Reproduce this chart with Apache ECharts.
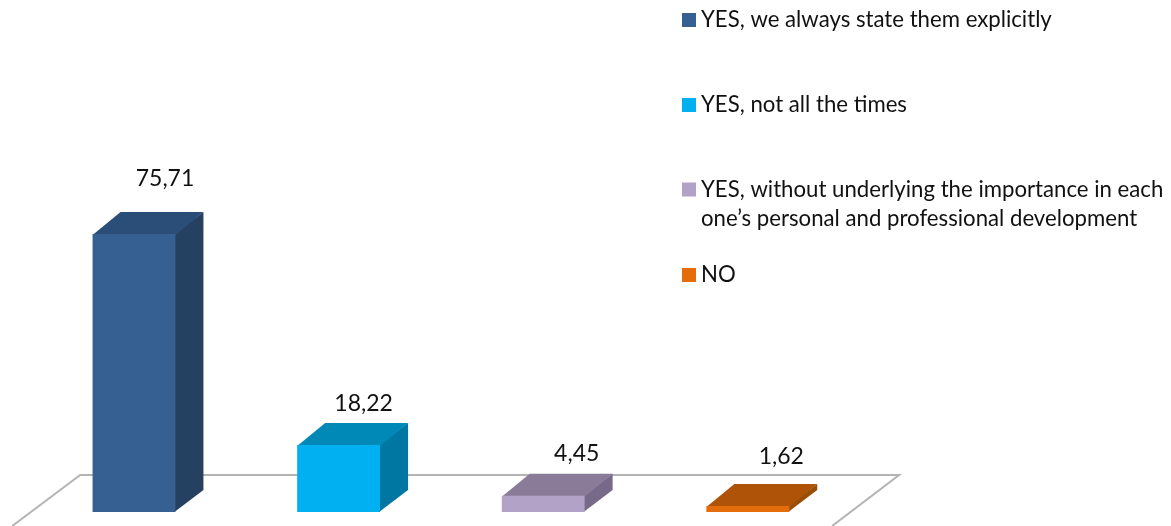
<!DOCTYPE html>
<html>
<head>
<meta charset="utf-8">
<script src="https://cdn.jsdelivr.net/npm/echarts@6/dist/echarts.min.js"></script>
<style>html,body{margin:0;padding:0;background:#fff}#c{width:1171px;height:526px}</style>
</head>
<body>
<div id="c"></div>
<script>
const categories = [
  'YES, we always state them explicitly',
  'YES, not all the times',
  'YES, without underlying the importance in each\none\u2019s personal and professional development',
  'NO'
];
const values = [75.71, 18.22, 4.45, 1.62];
const valueLabels = ['75,71', '18,22', '4,45', '1,62'];

const frontColors = ['#376092', '#00b0f0', '#b3a2c7', '#e46c0a'];
const topColors = ['#2b4e78', '#0088b6', '#8a7b98', '#ae5308'];
const sideColors = ['#254061', '#0076a3', '#776a88', '#975006'];
const labelOffsets = [[31, -55], [25, -42], [33.5, -42], [33.5, -49]];
const legendTops = [8, 93, 175, 263];
const DX = 28, DY = 22;
const FONT = 'Lato, Carlito, Calibri, sans-serif';

function barItem(i) {
  return function (params, api) {
    const p0 = api.coord([i, 0]);
    const p1 = api.coord([i, api.value(1)]);
    const w = api.size([1, 0])[0] * 0.405;
    const l = p0[0] - w / 2, r = p0[0] + w / 2, b = p0[1], t = p1[1];
    return {
      type: 'group',
      children: [
        { type: 'polygon', shape: { points: [[r - 1, b], [r + DX, b - DY], [r + DX, t - DY], [r - 1, t]] }, style: { fill: sideColors[i] } },
        { type: 'polygon', shape: { points: [[l, t + 1], [r, t + 1], [r + DX, t - DY], [l + DX, t - DY]] }, style: { fill: topColors[i] } },
        { type: 'polygon', shape: { points: [[l, b], [r, b], [r, t], [l, t]] }, style: { fill: frontColors[i] } },
        { type: 'text', x: p0[0] + labelOffsets[i][0], y: t + labelOffsets[i][1],
          style: { text: valueLabels[i], fill: '#111', font: '23px ' + FONT, align: 'center', verticalAlign: 'middle' } }
      ]
    };
  };
}

function floorItem(params) {
  const g = params.coordSys;
  const base = g.y + g.height;
  const backY = base - 37;
  const frontY = base + 14;
  const line = pts => ({ type: 'polyline', shape: { points: pts }, style: { fill: null, stroke: '#b4b4b4', lineWidth: 2 } });
  return {
    type: 'group',
    children: [
      line([[g.x + 48.5 - 68, frontY], [g.x + 48.5, backY], [g.x + g.width + 49, backY], [g.x + g.width + 49 - 67, frontY]])
    ]
  };
}

const series = [{
  type: 'custom', name: 'floor', silent: true, z: 1, clip: false,
  data: [[0, 0]], renderItem: floorItem, encode: { x: 0, y: 1 }
}];
categories.forEach((name, i) => {
  series.push({
    type: 'custom', name, z: 2, clip: false,
    itemStyle: { color: frontColors[i] },
    data: [[i, values[i]]],
    encode: { x: 0, y: 1 },
    renderItem: barItem(i)
  });
});

const legends = categories.map((name, i) => {
  const twoLines = name.indexOf('\n') >= 0;
  return {
    data: [name], left: 682, top: legendTops[i], padding: 0, orient: 'vertical',
    itemWidth: 14, itemHeight: twoLines ? 43 : 14, selectedMode: false,
    icon: twoLines ? 'path://M0 0H14V14H0Z M0 43H0Z' : 'rect',
    itemStyle: { color: frontColors[i], borderWidth: 0 },
    textStyle: { color: '#111', fontFamily: FONT, fontSize: 22.2, lineHeight: twoLines ? 29 : 24 }
  };
});

const chart = echarts.init(document.getElementById('c'), null, { renderer: 'canvas' });
chart.setOption({
  animation: false,
  backgroundColor: '#fff',
  legend: legends,
  grid: { left: 31.7, top: 218.2, width: 818.4, height: 293.8, containLabel: false },
  xAxis: { type: 'category', data: categories, show: false },
  yAxis: { type: 'value', min: 0, max: 80, show: false },
  series
});
</script>
</body>
</html>
